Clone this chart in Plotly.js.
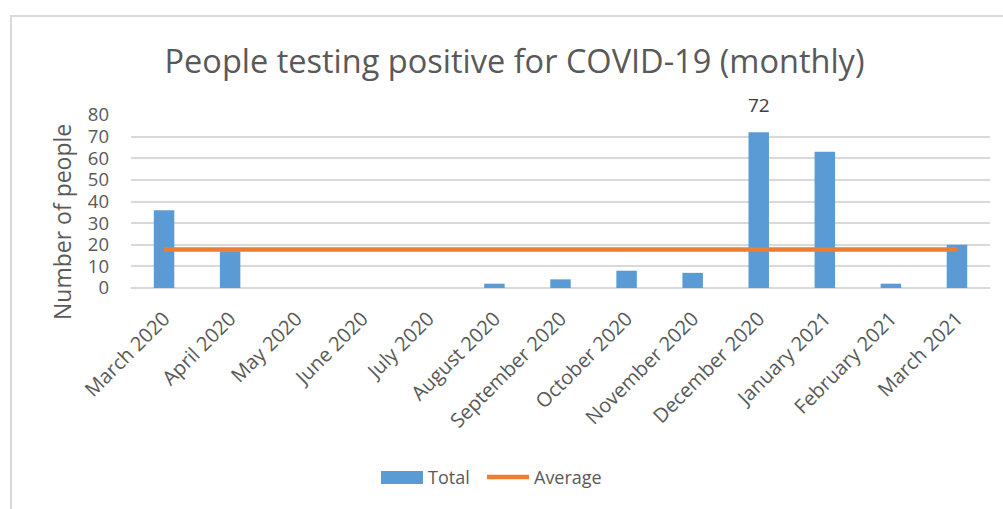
<!DOCTYPE html>
<html>
<head>
<meta charset="utf-8">
<script src="https://cdn.plot.ly/plotly-3.0.1.min.js"></script>
<style>
  body { margin: 0; background: #fff; }
  #chart { width: 1003px; height: 509px; }
  #frame {
    position: absolute; left: 10px; top: 15px; width: 1100px; height: 600px;
    border-left: 2px solid #d9d9d9; border-top: 2px solid #d9d9d9;
    pointer-events: none;
  }
</style>
</head>
<body>
<div id="chart"></div>
<div id="frame"></div>
<script>
var months = ["March 2020", "April 2020", "May 2020", "June 2020", "July 2020",
              "August 2020", "September 2020", "October 2020", "November 2020",
              "December 2020", "January 2021", "February 2021", "March 2021"];
var total = [36, 17, 0, 0, 0, 2, 4, 8, 7, 72, 63, 2, 20];
var average = [17.8, 17.8, 17.8, 17.8, 17.8, 17.8, 17.8, 17.8, 17.8, 17.8, 17.8, 17.8, 17.8];
var yTicks = [0, 10, 20, 30, 40, 50, 60, 70, 80];

var grey = "#595959";
var font = "Open Sans, Liberation Sans, sans-serif";
var barColor = "#5b9bd5";
var lineColor = "#ed7d31";

var totalTrace = {
    x: months,
    y: total,
    name: "Total",
    type: "bar",
    marker: { color: barColor },
    hoverinfo: "x+y"
};

var avgTrace = {
    x: months,
    y: average,
    name: "Average",
    type: "scatter",
    mode: "lines",
    line: { color: lineColor, width: 4.5 }
};

var peak = total.indexOf(Math.max.apply(null, total));

// plot area in pixels, used to place the legend and axis title around it
var plotL = 131, plotW = 859, plotB = 288, plotH = 173;
function px(x) { return (x - plotL) / plotW; }
function py(y) { return (plotB - y) / plotH; }
var legY = 477;

var layout = {
    width: 1003,
    height: 509,
    font: { family: font, color: grey },
    paper_bgcolor: "#ffffff",
    plot_bgcolor: "#ffffff",
    bargap: 0.69,
    margin: { l: 131, r: 13, t: 115, b: 221 },
    showlegend: false,
    title: {
        text: "People testing positive for COVID-19 (monthly)",
        font: { size: 32.5, color: grey },
        x: 0.513, xanchor: "center",
        y: 0.878, yanchor: "middle"
    },
    xaxis: {
        type: "category",
        tickangle: -45,
        tickfont: { size: 20, color: grey },
        showgrid: false,
        showline: false,
        ticks: "",
        ticklabelstandoff: 14
    },
    yaxis: {
        range: [0, 80],
        tickvals: yTicks,
        tickfont: { size: 18.5, color: grey },
        gridcolor: "#d9d9d9",
        gridwidth: 1.5,
        zeroline: true,
        zerolinecolor: "#d9d9d9",
        zerolinewidth: 1.5,
        showline: false,
        ticks: "",
        ticklabelstandoff: 21
    },
    shapes: [
        { type: "rect", xref: "paper", yref: "paper",
          x0: px(381), x1: px(423), y0: py(484), y1: py(471),
          fillcolor: barColor, line: { width: 0 } },
        { type: "line", xref: "paper", yref: "paper",
          x0: px(487), x1: px(529), y0: py(legY), y1: py(legY),
          line: { color: lineColor, width: 4.5 } }
    ],
    annotations: [{
        x: months[peak],
        y: total[peak],
        text: String(total[peak]),
        showarrow: false,
        yanchor: "bottom",
        yshift: 12,
        font: { size: 19, color: "#404040" }
    }, {
        xref: "paper", yref: "paper",
        x: px(62), y: py(222), xanchor: "center", yanchor: "middle",
        text: "Number of people", textangle: -90, showarrow: false,
        font: { size: 23, color: grey }
    }, {
        xref: "paper", yref: "paper",
        x: px(426), y: py(legY), xanchor: "left", yanchor: "middle",
        text: totalTrace.name, showarrow: false,
        font: { size: 18, color: grey }
    }, {
        xref: "paper", yref: "paper",
        x: px(532), y: py(legY), xanchor: "left", yanchor: "middle",
        text: avgTrace.name, showarrow: false,
        font: { size: 18, color: grey }
    }]
};

Plotly.newPlot("chart", [totalTrace, avgTrace], layout, { displayModeBar: false });
</script>
</body>
</html>
